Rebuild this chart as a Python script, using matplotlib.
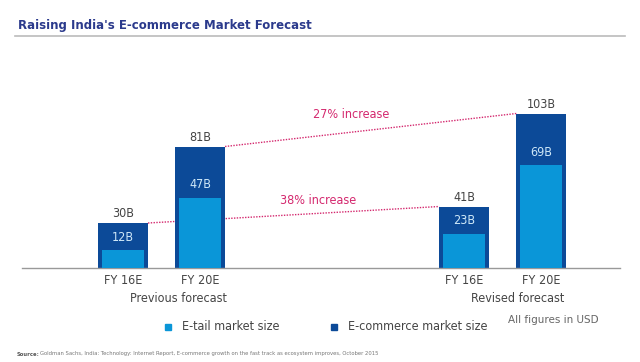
import matplotlib
matplotlib.use("Agg")
import matplotlib.pyplot as plt
from matplotlib.lines import Line2D
from matplotlib import font_manager

# Data
periods = ["FY 16E", "FY 20E", "FY 16E", "FY 20E"]
groups = ["Previous forecast", "Revised forecast"]
ecommerce = [30, 81, 41, 103]
etail = [12, 47, 23, 69]
increases = ["38% increase", "27% increase"]

DARK = "#0c4a98"
LIGHT = "#0a96d8"
PINK = "#d4286e"
GRAY_TXT = "#444444"

names = {f.name for f in font_manager.fontManager.ttflist}
cond = [f for f in font_manager.fontManager.ttflist if f.name == "DejaVu Sans" and f.stretch == "condensed"]
if "Liberation Sans Narrow" in names:
    NARROW = dict(family="Liberation Sans Narrow")
elif cond:
    NARROW = dict(family="DejaVu Sans", fontstretch="condensed")
else:
    NARROW = dict(family="Roboto")

W, H = 640, 362
fig = plt.figure(figsize=(W / 100, H / 100), dpi=100)

def fx(px):
    return px / W

def fy(py):
    return 1 - py / H

ax = fig.add_axes([fx(22), fy(268), fx(620 - 22), (268 - 100) / H])
xpos = [0, 1, 4.43, 5.43]
ax.set_xlim(-1.31, 6.45)
ax.set_ylim(0, 112)
for s in ["top", "right", "left"]:
    ax.spines[s].set_visible(False)
ax.spines["bottom"].set_color("#999999")
ax.spines["bottom"].set_linewidth(1.0)
ax.set_yticks([])
ax.set_xticks(xpos)
ax.set_xticklabels(periods, fontsize=9, color=GRAY_TXT, **NARROW)
ax.tick_params(axis="x", length=0, pad=4)

bw, lw_ = 0.65, 0.545
ax.plot([xpos[0] + bw / 2, xpos[2] - bw / 2], [ecommerce[0], ecommerce[2]],
        ls=(0, (1, 1)), color=PINK, lw=1, zorder=1)
ax.plot([xpos[1] + bw / 2, xpos[3] - bw / 2], [ecommerce[1], ecommerce[3]],
        ls=(0, (1, 1)), color=PINK, lw=1, zorder=1)

ax.bar(xpos, ecommerce, width=bw, color=DARK, zorder=2)
ax.bar(xpos, etail, width=lw_, color=LIGHT, zorder=3)

for x, t, e in zip(xpos, ecommerce, etail):
    ax.annotate(f"{t}B", (x, t), xytext=(0, 6.5), textcoords="offset points",
                ha="center", va="center", fontsize=9, color=GRAY_TXT, **NARROW)
    ax.annotate(f"{e}B", (x, e), xytext=(0, 9), textcoords="offset points",
                ha="center", va="center", fontsize=9, color="#cfe8f8", zorder=4, **NARROW)

fig.text(fx(318), fy(201), increases[0], ha="center", va="center",
         fontsize=9, color=PINK, **NARROW)
fig.text(fx(351), fy(115), increases[1], ha="center", va="center",
         fontsize=9, color=PINK, **NARROW)

fig.text(fx(178), fy(298), groups[0], ha="center", va="center",
         fontsize=9, color=GRAY_TXT, **NARROW)
fig.text(fx(518), fy(298), groups[1], ha="center", va="center",
         fontsize=9, color=GRAY_TXT, **NARROW)

fig.text(fx(18), fy(25), "Raising India's E-commerce Market Forecast", ha="left", va="center",
         fontsize=8.5, fontweight="bold", color="#2b3a8c")
fig.add_artist(Line2D([fx(15), fx(625)], [fy(36), fy(36)], color="#bbbbbb", lw=1.2))

fig.patches.append(plt.Rectangle((fx(165), fy(330)), 6 / W, 6 / H, color=LIGHT,
                                 transform=fig.transFigure, figure=fig))
fig.text(fx(182), fy(327), "E-tail market size", ha="left", va="center",
         fontsize=9, color=GRAY_TXT, **NARROW)
fig.patches.append(plt.Rectangle((fx(331), fy(330)), 6 / W, 6 / H, color=DARK,
                                 transform=fig.transFigure, figure=fig))
fig.text(fx(348), fy(327), "E-commerce market size", ha="left", va="center",
         fontsize=9, color=GRAY_TXT, **NARROW)
fig.text(fx(508), fy(320), "All figures in USD", ha="left", va="center",
         fontsize=7.5, color="#666666")

fig.text(fx(17), fy(354), "Source:", ha="left", va="center", fontsize=3.8, fontweight="bold",
         color="#555555")
fig.text(fx(40), fy(354),
         "Goldman Sachs, India: Technology: Internet Report, E-commerce growth on the fast track as ecosystem improves, October 2015",
         ha="left", va="center", fontsize=3.8, color="#777777")

fig.savefig("out.png", dpi=100)
